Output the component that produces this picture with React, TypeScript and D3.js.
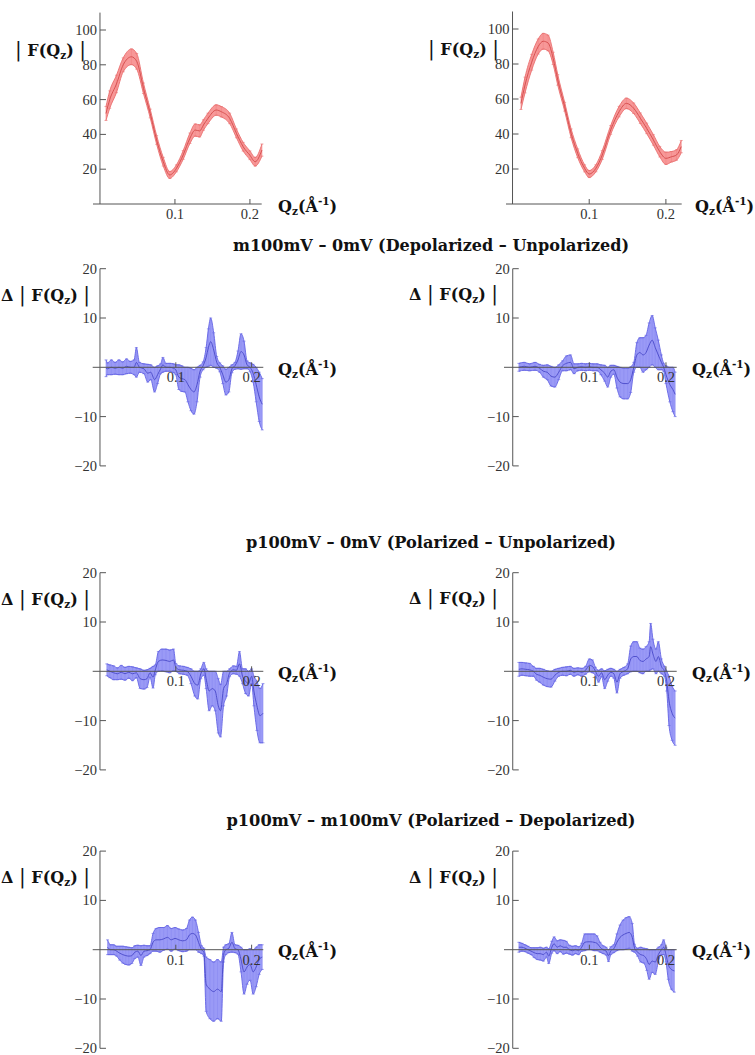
import React from "react";
import * as d3 from "d3";

// ---------- |F(Qz)| panels (top row) ----------
const qzTopLeft = [0.008, 0.013, 0.022, 0.031, 0.042, 0.049, 0.058, 0.067, 0.0756, 0.0844, 0.093, 0.102, 0.111, 0.12, 0.127, 0.133, 0.138, 0.144, 0.155, 0.162, 0.173, 0.182, 0.191, 0.2, 0.207, 0.216];
const fTopLeft = [52, 60, 69, 80, 84.6, 82, 66.5, 52, 36.8, 24.3, 16.7, 20.5, 28.2, 37.8, 42.5, 42, 45.4, 49.2, 54, 53, 49.2, 40.6, 32.9, 28, 24.3, 31];
const errTopLeft = [4, 5, 5, 4, 4.5, 4.5, 3, 2.5, 2.5, 2.5, 2, 2, 2.5, 3, 3.5, 3.5, 3, 3, 3, 3, 3, 2.5, 2.5, 2.5, 2.5, 3.5];

const qzTopRight = [0.011, 0.0163, 0.025, 0.0335, 0.04, 0.0464, 0.053, 0.059, 0.068, 0.0764, 0.085, 0.094, 0.1, 0.1087, 0.117, 0.128, 0.139, 0.1485, 0.158, 0.1667, 0.175, 0.1837, 0.192, 0.2, 0.2073, 0.2138, 0.22];
const fTopRight = [57.5, 68, 81, 90, 93, 92, 83.2, 70.9, 55.6, 40.4, 29, 20.4, 17.1, 20.4, 28, 42.3, 52.8, 57.5, 54.7, 49, 43.2, 36.6, 29.9, 26.1, 27, 28, 32.8];
const errTopRight = [3.5, 4.5, 4.5, 4.3, 4.5, 4.5, 3.5, 3, 2.5, 2.5, 2.5, 2, 2, 2, 2.5, 2.5, 3, 3, 3, 3, 3, 3, 3, 3.5, 3, 3, 3.5];

// ---------- m100mV – 0mV ----------
const qzM100Left = [0.008, 0.01, 0.015, 0.02, 0.025, 0.03, 0.035, 0.04, 0.045, 0.048, 0.052, 0.058, 0.063, 0.067, 0.072, 0.076, 0.08, 0.083, 0.087, 0.092, 0.097, 0.1, 0.104, 0.108, 0.112, 0.116, 0.12, 0.124, 0.128, 0.132, 0.136, 0.14, 0.143, 0.146, 0.15, 0.154, 0.158, 0.162, 0.166, 0.17, 0.174, 0.178, 0.182, 0.186, 0.19, 0.194, 0.198, 0.202, 0.206, 0.21, 0.214];
const midM100Left = [-0.2, -0.3, 0, -0.2, 0, -0.2, 0.2, 0, 0, 1, 0, -0.3, -1.2, -1, -2.5, -1.5, -0.3, 0.5, 0, 0, -0.2, -0.5, -2, -2.3, -2.5, -3.5, -4.5, -5, -3.5, -0.8, 0.3, 2, 4, 5.2, 3.5, 1, 0, -1.5, -3, -2.5, -0.3, 0.3, 1.5, 3.2, 2.5, 0.5, 0, -1.2, -3.5, -6, -7.5];
const errM100Left = [1.7, 1.2, 1.5, 1.2, 1.5, 1.3, 1.5, 1.2, 1.5, 3, 1, 1, 1.8, 1.5, 2.5, 1.8, 1, 1.5, 0.8, 0.8, 0.9, 1, 2.5, 2.6, 2.5, 3.5, 4.3, 4.5, 3.5, 1.2, 0.8, 2, 3.8, 4.8, 3.5, 1.2, 0.9, 1.8, 2.6, 2.5, 0.8, 0.7, 1.8, 3.6, 2.8, 0.8, 0.9, 1.8, 3.5, 5, 5.2];

const qzM100Right = [0.008, 0.015, 0.022, 0.029, 0.035, 0.04, 0.045, 0.05, 0.055, 0.06, 0.065, 0.07, 0.0755, 0.08, 0.085, 0.09, 0.095, 0.1, 0.105, 0.11, 0.115, 0.12, 0.124, 0.128, 0.132, 0.136, 0.14, 0.145, 0.15, 0.154, 0.158, 0.162, 0.166, 0.17, 0.174, 0.178, 0.182, 0.186, 0.19, 0.194, 0.197, 0.2, 0.205, 0.209, 0.212];
const midM100Right = [0, 0.2, 0, 0.2, -0.2, -0.8, -1, -1.8, -2, -1, 0.3, 0.8, 1, -0.3, 0, 0.1, 0, 0.1, 0, 0, -0.5, -1.2, -2, -0.8, -0.5, -2, -3, -3.3, -3.3, -2.5, 0, 2.5, 3, 2.5, 3, 4.5, 5.5, 4, 2.5, 1, 0, -1.5, -3.5, -4.5, -5.5];
const errM100Right = [0.8, 0.8, 0.7, 0.8, 0.8, 1.2, 1.5, 2, 2, 1.5, 1, 1.5, 1.5, 1, 0.7, 0.7, 0.7, 0.7, 0.7, 0.7, 1, 1.6, 2, 1.2, 0.9, 2.2, 3, 3.1, 3.1, 2.6, 1, 2.5, 3, 3.5, 3.5, 4.5, 5, 4, 3, 1.5, 0.8, 1.8, 3.5, 4.5, 4.5];

// ---------- p100mV – 0mV ----------
const qzP100Left = [0.009, 0.013, 0.018, 0.023, 0.028, 0.033, 0.038, 0.043, 0.048, 0.053, 0.058, 0.062, 0.066, 0.07, 0.073, 0.077, 0.082, 0.087, 0.092, 0.097, 0.1, 0.105, 0.11, 0.115, 0.12, 0.125, 0.129, 0.133, 0.137, 0.14, 0.144, 0.148, 0.152, 0.156, 0.159, 0.163, 0.167, 0.171, 0.176, 0.18, 0.184, 0.188, 0.192, 0.196, 0.2, 0.203, 0.207, 0.211, 0.215];
const midP100Left = [0.3, 0, -0.3, -0.5, -0.2, -0.5, -0.2, -0.5, -0.3, -1.5, -1.7, -1.5, -0.3, -1.2, 0.3, 2, 2.3, 2.2, 2, 2.3, 0.8, 0.3, 0.2, 0, -1, -2.5, -2.8, -0.5, 0.5, -1.5, -4, -3.5, -4, -7, -8, -3.5, -2.5, -0.3, 0.3, 0.2, 1.5, -1, -2, -2.5, -1, -4, -7, -9, -8.5];
const errP100Left = [1.2, 1.3, 1.4, 1.2, 1.4, 1.3, 1.2, 1.4, 1, 2, 1.9, 1.8, 0.9, 2.2, 1, 2, 2.2, 2.3, 2.3, 2.2, 0.8, 0.8, 0.8, 0.8, 1.5, 2.5, 2.8, 1, 1.3, 2, 4, 3.5, 4, 5.5, 5.3, 3.5, 2.5, 0.8, 0.8, 0.8, 2.5, 1.5, 2.5, 2.5, 1.5, 3, 5, 5.5, 6];

const qzP100Right = [0.008, 0.012, 0.017, 0.022, 0.027, 0.031, 0.035, 0.04, 0.045, 0.05, 0.055, 0.06, 0.065, 0.07, 0.075, 0.08, 0.085, 0.09, 0.095, 0.1, 0.104, 0.108, 0.112, 0.116, 0.12, 0.124, 0.128, 0.132, 0.136, 0.14, 0.145, 0.15, 0.154, 0.158, 0.162, 0.166, 0.17, 0.174, 0.178, 0.18, 0.183, 0.187, 0.19, 0.194, 0.198, 0.201, 0.204, 0.208, 0.212];
const midP100Right = [0.4, 0.5, 0.4, 0.3, 0, -0.6, -0.8, -1.2, -1.5, -1.6, -0.8, -0.2, 0, 0, 0.2, -0.2, 0, -0.2, 0.2, 1.2, 1, 0, -1, -0.3, -1.7, -0.8, -0.2, -0.5, -2.2, -0.5, 0, 0.5, 2.5, 3, 3, 2.2, 2, 2.5, 3, 5, 3.5, 2, 3, 1, 0, -2, -6, -8.5, -9.5];
const errP100Right = [1.4, 1.3, 1.3, 1.3, 1, 1.2, 1.4, 1.6, 1.6, 1.6, 1.2, 0.8, 0.8, 0.9, 0.8, 0.8, 0.7, 0.8, 0.8, 1.3, 1.3, 0.8, 1.2, 0.8, 1.8, 1.2, 0.8, 0.9, 2.2, 0.9, 0.8, 1, 2.6, 3, 3, 2.5, 2.5, 2.5, 3, 4.7, 3, 2.5, 3, 1.5, 1, 2, 5, 5.5, 5.5];

// ---------- p100mV – m100mV ----------
const qzPMLeft = [0.01, 0.014, 0.018, 0.022, 0.026, 0.03, 0.034, 0.038, 0.042, 0.046, 0.05, 0.054, 0.058, 0.062, 0.066, 0.07, 0.074, 0.079, 0.084, 0.089, 0.094, 0.099, 0.104, 0.109, 0.114, 0.118, 0.122, 0.126, 0.13, 0.134, 0.137, 0.14, 0.145, 0.15, 0.155, 0.16, 0.163, 0.166, 0.17, 0.174, 0.178, 0.182, 0.186, 0.19, 0.194, 0.198, 0.202, 0.206, 0.21, 0.214];
const midPMLeft = [0.5, 0, 0, -0.3, -0.7, -1, -1.2, -1.3, -1.2, -0.5, -0.3, -1.2, -0.3, -0.2, 0, 1.5, 2, 2, 2.2, 2.5, 2, 2.3, 2, 1.8, 2, 3, 3.3, 3, 1.5, 0, -0.5, -7, -8, -8.5, -8, -8.5, -1, 0, 0.3, 1.5, 0.2, 0, -2, -4.5, -3.5, -3, -4.5, -3.5, -2, -1.5];
const errPMLeft = [1.5, 1, 1, 1, 1.4, 1.7, 1.8, 1.8, 1.6, 1.3, 1.2, 2, 1.2, 1, 0.8, 1.8, 2.3, 2.5, 2.3, 2.4, 2.3, 2.2, 2.2, 2.2, 2.3, 3, 3.3, 3, 2, 0.8, 0.8, 5.5, 6, 6, 6, 6, 1.5, 1, 0.9, 2, 0.8, 0.9, 2.5, 4.5, 3.5, 3.2, 4.5, 4, 3, 2.5];

const qzPMRight = [0.008, 0.012, 0.016, 0.02, 0.024, 0.028, 0.032, 0.036, 0.04, 0.044, 0.047, 0.051, 0.054, 0.058, 0.062, 0.066, 0.07, 0.074, 0.078, 0.082, 0.086, 0.09, 0.094, 0.098, 0.102, 0.106, 0.11, 0.114, 0.118, 0.122, 0.125, 0.128, 0.132, 0.136, 0.14, 0.144, 0.148, 0.152, 0.156, 0.159, 0.163, 0.167, 0.171, 0.175, 0.178, 0.182, 0.186, 0.19, 0.194, 0.197, 0.2, 0.203, 0.207, 0.211];
const midPMRight = [0.5, 0.5, 0.3, 0, -0.3, -0.6, -0.8, -0.8, -1, -0.5, -1.3, 0.5, 1.2, 0.5, 0.8, 0.5, 0.5, 0, -0.2, 0, -0.2, 0.5, 1.5, 1.6, 1.6, 1.5, 1.3, 0.5, 0, -0.3, -1.2, -0.2, 0.2, 1.5, 2.5, 3, 3.3, 3.5, 2.5, 0.3, -0.5, -1, -1.2, -2, -3, -2.3, -2.5, -1, 0, 0.5, -1, -3, -4, -4.3];
const errPMRight = [1, 0.8, 0.7, 0.7, 0.7, 1, 1.2, 1.3, 1.3, 1, 1.5, 1.2, 1.4, 1.3, 1.2, 1.4, 1.2, 0.9, 0.9, 0.8, 0.8, 0.8, 1.7, 1.6, 1.6, 1.7, 1.5, 1, 0.8, 0.8, 1.2, 0.8, 0.8, 1.7, 2.5, 3, 3.2, 3.2, 2.8, 0.8, 0.8, 1.5, 1.5, 2.2, 3, 2.3, 2.5, 1.5, 1, 1.5, 1.5, 3, 4, 4.3];

// ---------- ticks & texts ----------
const xTickValues = [0.1, 0.2];
const redYTicks = [20, 40, 60, 80, 100];
const blueYTicks = [-20, -10, 10, 20];
const titles = [
  "m100mV – 0mV (Depolarized – Unpolarized)",
  "p100mV – 0mV (Polarized – Unpolarized)",
  "p100mV – m100mV (Polarized – Depolarized)",
];

type Series = { qz: number[]; mid: number[]; err: number[] };
type Colors = { fill: string; bar: string; edge: string; mid: string };

const RED: Colors = { fill: "#f79898", bar: "#f28484", edge: "#ea6e6e", mid: "#d24a4a" };
const BLUE: Colors = { fill: "#9a9af6", bar: "#8a8af2", edge: "#6464e4", mid: "#4848c8" };

const fmtTick = (v: number) => (v < 0 ? "\u2212" + Math.abs(v) : String(v));

const LABEL_FONT = "'DejaVu Serif', serif";
const TICK_FONT = "'Liberation Serif', 'Times New Roman', serif";

function YLabel({ x, y, delta }: { x: number; y: number; delta: boolean }) {
  return (
    <text x={x} y={y} fontFamily={LABEL_FONT} fontWeight="bold" fontSize={16} fill="#111">
      {delta ? "Δ " : ""}
      <tspan fontWeight="normal" fontSize={20}>|</tspan>
      <tspan> F(Q</tspan>
      <tspan fontSize={10.5} dy={3}>z</tspan>
      <tspan dy={-3}>) </tspan>
      <tspan fontWeight="normal" fontSize={20}>|</tspan>
    </text>
  );
}

function XLabel({ x, y }: { x: number; y: number }) {
  return (
    <text x={x} y={y} fontFamily={LABEL_FONT} fontWeight="bold" fontSize={16} fill="#111">
      Q<tspan fontSize={10.5} dy={3}>z</tspan>
      <tspan dy={-3}>(Å</tspan>
      <tspan fontSize={10.5} dy={-7}>-1</tspan>
      <tspan dy={7}>)</tspan>
    </text>
  );
}

type PanelProps = {
  s: Series;
  xDomain: [number, number];
  xRange: [number, number];
  yDomain: [number, number];
  yRange: [number, number];
  yTicks: number[];
  colors: Colors;
  delta: boolean;
  labelX: number;
  labelY: number;
  xLabelX: number;
  xTickDy: number;
};

function Panel(p: PanelProps) {
  const x = d3.scaleLinear().domain(p.xDomain).range(p.xRange);
  const y = d3.scaleLinear().domain(p.yDomain).range(p.yRange);
  const pts = p.s.qz.map((q, i) => ({ q, m: p.s.mid[i], e: p.s.err[i] }));
  type P = (typeof pts)[number];
  const curve = d3.curveMonotoneX;
  const area = d3.area<P>().x((d) => x(d.q)).y0((d) => y(d.m - d.e)).y1((d) => y(d.m + d.e)).curve(curve);
  const hi = d3.line<P>().x((d) => x(d.q)).y((d) => y(d.m + d.e)).curve(curve);
  const lo = d3.line<P>().x((d) => x(d.q)).y((d) => y(d.m - d.e)).curve(curve);
  const mid = d3.line<P>().x((d) => x(d.q)).y((d) => y(d.m)).curve(curve);
  const ax = x(0);
  const ay = y(Math.max(0, p.yDomain[0]));
  const axisColor = "#555";
  return (
    <g>
      <path d={area(pts) || ""} fill={p.colors.fill} stroke="none" />
      {pts.map((d, i) => (
        <g key={i} stroke={p.colors.bar} strokeWidth={0.6}>
          <line x1={x(d.q)} x2={x(d.q)} y1={y(d.m - d.e)} y2={y(d.m + d.e)} />
          <line x1={x(d.q) - 1.5} x2={x(d.q) + 1.5} y1={y(d.m - d.e)} y2={y(d.m - d.e)} stroke={p.colors.edge} />
          <line x1={x(d.q) - 1.5} x2={x(d.q) + 1.5} y1={y(d.m + d.e)} y2={y(d.m + d.e)} stroke={p.colors.edge} />
        </g>
      ))}
      <path d={hi(pts) || ""} fill="none" stroke={p.colors.edge} strokeWidth={0.9} />
      <path d={lo(pts) || ""} fill="none" stroke={p.colors.edge} strokeWidth={0.9} />
      <path d={mid(pts) || ""} fill="none" stroke={p.colors.mid} strokeWidth={0.9} />

      {/* axes */}
      <line x1={p.xRange[0]} x2={p.xRange[1]} y1={ay} y2={ay} stroke={axisColor} strokeWidth={1} />
      <line x1={ax} x2={ax} y1={y(p.yDomain[0])} y2={y(p.yDomain[1])} stroke={axisColor} strokeWidth={1} />
      {p.yTicks.map((t) => (
        <g key={"y" + t}>
          <line x1={ax} x2={ax + 6} y1={y(t)} y2={y(t)} stroke={axisColor} strokeWidth={1} />
          <text x={ax - 3} y={y(t) + 5} textAnchor="end" fontFamily={TICK_FONT} fontSize={14.5} fill="#333">
            {fmtTick(t)}
          </text>
        </g>
      ))}
      {xTickValues.map((t) => (
        <g key={"x" + t}>
          <line x1={x(t)} x2={x(t)} y1={ay} y2={ay - 5} stroke={axisColor} strokeWidth={1} />
          <text x={x(t)} y={ay + p.xTickDy} textAnchor="middle" fontFamily={TICK_FONT} fontSize={14.5} fill="#333">
            {String(t)}
          </text>
        </g>
      ))}
      <YLabel x={p.labelX} y={p.labelY} delta={p.delta} />
      <XLabel x={p.xLabelX} y={ay + 7.5} />
    </g>
  );
}

const blueSeries: Series[][] = [
  [
    { qz: qzM100Left, mid: midM100Left, err: errM100Left },
    { qz: qzM100Right, mid: midM100Right, err: errM100Right },
  ],
  [
    { qz: qzP100Left, mid: midP100Left, err: errP100Left },
    { qz: qzP100Right, mid: midP100Right, err: errP100Right },
  ],
  [
    { qz: qzPMLeft, mid: midPMLeft, err: errPMLeft },
    { qz: qzPMRight, mid: midPMRight, err: errPMRight },
  ],
];

export default function App() {
  const rowY0 = [367.3, 671.3, 949.7];
  const titleY = [250.5, 548.3, 825.7];
  const titleLen = [396, 370, 409];
  const blueK = 4.93;
  return (
    <svg
      width={755}
      height={1055}
      viewBox="0 0 755 1055"
      style={{ position: "absolute", left: 0, top: 0, background: "#fff", display: "block" }}
    >
      <rect width={755} height={1055} fill="#fff" />
      <Panel
        s={{ qz: qzTopLeft, mid: fTopLeft, err: errTopLeft }}
        xDomain={[-0.0093, 0.2157]}
        xRange={[93, 261.7]}
        yDomain={[0, 110]}
        yRange={[204, 12.6]}
        yTicks={redYTicks}
        colors={RED}
        delta={false}
        labelX={15}
        labelY={56}
        xLabelX={278}
        xTickDy={14.5}
      />
      <Panel
        s={{ qz: qzTopRight, mid: fTopRight, err: errTopRight }}
        xDomain={[-0.0085, 0.2206]}
        xRange={[506, 681.7]}
        yDomain={[0, 110]}
        yRange={[204, 11.5]}
        yTicks={redYTicks}
        colors={RED}
        delta={false}
        labelX={428}
        labelY={55}
        xLabelX={695}
        xTickDy={14.5}
      />
      {blueSeries.map((row, r) => (
        <g key={r}>
          <text
            x={431}
            y={titleY[r]}
            textAnchor="middle"
            fontFamily={LABEL_FONT}
            fontWeight="bold"
            fontSize={16}
            fill="#111"
            textLength={titleLen[r]}
            lengthAdjust="spacingAndGlyphs"
          >
            {titles[r]}
          </text>
          <Panel
            s={row[0]}
            xDomain={[-0.0096, 0.2154]}
            xRange={[92.7, 263.3]}
            yDomain={[-20, 20]}
            yRange={[rowY0[r] + 20 * blueK, rowY0[r] - 20 * blueK]}
            yTicks={blueYTicks}
            colors={BLUE}
            delta={true}
            labelX={1}
            labelY={rowY0[r] - 66.5}
            xLabelX={278}
            xTickDy={15}
          />
          <Panel
            s={row[1]}
            xDomain={[-0.0114, 0.214]}
            xRange={[504, 676.7]}
            yDomain={[-20, 20]}
            yRange={[rowY0[r] + 20 * blueK, rowY0[r] - 20 * blueK]}
            yTicks={blueYTicks}
            colors={BLUE}
            delta={true}
            labelX={409}
            labelY={rowY0[r] - 67}
            xLabelX={692}
            xTickDy={15}
          />
        </g>
      ))}
    </svg>
  );
}
